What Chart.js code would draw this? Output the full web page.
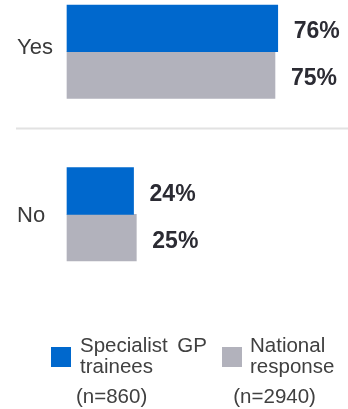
<!DOCTYPE html>
<html><head><meta charset="utf-8">
<script src="https://cdn.jsdelivr.net/npm/chart.js@4"></script>
<style>
html,body{margin:0;padding:0;background:#fff;}
#wrap{position:relative;width:348px;height:409px;overflow:hidden;}
canvas{position:absolute;left:0;top:0;}
.lg{position:absolute;font-family:'Liberation Sans',Arial,sans-serif;font-size:20.5px;line-height:20px;color:#404040;white-space:nowrap;}
.sw{position:absolute;width:20px;height:20px;}
</style></head><body>
<div id="wrap"><canvas id="c" width="348" height="409"></canvas><div id="legend"></div></div>
<script>
const categories = ['Yes', 'No'];
const seriesNames = ['Specialist GP trainees', 'National response'];
const legendLines = [['Specialist GP', 'trainees'], ['National', 'response']];
const sampleSizes = ['(n=860)', '(n=2940)'];
const gpTrainees = [76, 24];
const nationalResponse = [75, 25];
const colors = ['#0068CD', '#B2B2BC'];

const overlay = {
  id: 'overlay',
  afterDatasetsDraw(chart, args, opts) {
    const ctx = chart.ctx, ys = chart.scales.y;
    ctx.save();
    const sy = ys.getPixelForValue(opts.separatorAt);
    ctx.strokeStyle = '#e2e2e2'; ctx.lineWidth = 2;
    ctx.beginPath(); ctx.moveTo(16, sy); ctx.lineTo(348, sy); ctx.stroke();
    ctx.font = '22px "Liberation Sans", Arial, sans-serif';
    ctx.fillStyle = '#3a3a3a'; ctx.textAlign = 'left'; ctx.textBaseline = 'alphabetic';
    categories.forEach((c, i) => ctx.fillText(c, 17, ys.getPixelForValue(i) + opts.catShift[i]));
    ctx.font = 'bold 23px "Liberation Sans", Arial, sans-serif';
    ctx.fillStyle = '#2b2b33';
    chart.data.datasets.forEach((ds, di) => {
      chart.getDatasetMeta(di).data.forEach((bar, i) => {
        ctx.fillText(ds.data[i] + '%', bar.x + 16, bar.y + 10);
      });
    });
    ctx.restore();
  }
};

new Chart(document.getElementById('c'), {
  type: 'bar',
  data: {
    labels: categories,
    datasets: [
      { label: seriesNames[0], data: gpTrainees, backgroundColor: colors[0], clip: false, barThickness: 46.6 },
      { label: seriesNames[1], data: nationalResponse, backgroundColor: colors[1], clip: false, barThickness: 46.6 }
    ]
  },
  options: {
    indexAxis: 'y',
    responsive: false,
    animation: false,
    layout: { padding: { left: 67, right: 3.7, top: 51.7, bottom: 194.7 } },
    scales: {
      x: { display: false, min: 0, max: 100 },
      y: { display: false, offset: false }
    },
    plugins: {
      legend: { display: false },
      tooltip: { enabled: false },
      overlay: { separatorAt: 0.473, catShift: [2.3, 7.4] }
    }
  },
  plugins: [overlay]
});

// legend (HTML text)
const lg = document.getElementById('legend');
const legendPos = [
  { sw: [51, 347], text: 80, width: 127, n: 76 },
  { sw: [221.5, 347], text: 250, width: 0, n: 233.3 }
];
legendPos.forEach((p, i) => {
  const s = document.createElement('div');
  s.className = 'sw'; s.style.left = p.sw[0] + 'px'; s.style.top = p.sw[1] + 'px';
  s.style.background = colors[i]; lg.appendChild(s);
  legendLines[i].forEach((t, j) => {
    const d = document.createElement('div');
    d.className = 'lg'; d.textContent = t;
    d.style.left = p.text + 'px'; d.style.top = (334.6 + j * 21.6) + 'px';
    if (j === 0 && p.width) { d.style.width = p.width + 'px'; d.style.textAlign = 'justify'; d.style.textAlignLast = 'justify'; }
    lg.appendChild(d);
  });
  const n = document.createElement('div');
  n.className = 'lg'; n.textContent = sampleSizes[i];
  n.style.left = p.n + 'px'; n.style.top = '385.9px';
  lg.appendChild(n);
});
</script>
</body></html>
